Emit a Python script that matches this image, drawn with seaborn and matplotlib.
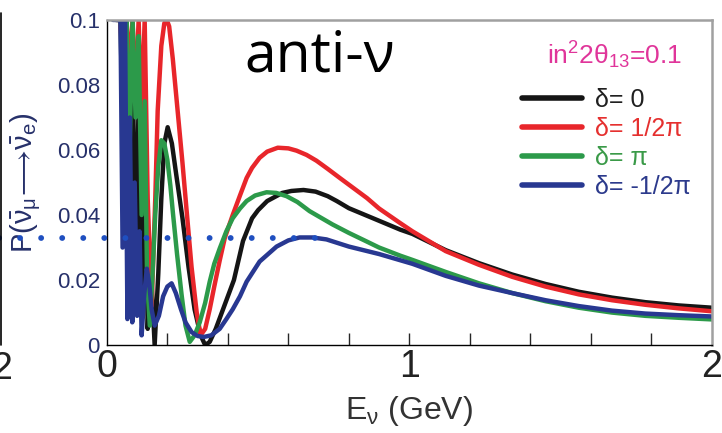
import numpy as np
import pandas as pd
import matplotlib
matplotlib.use('Agg')
import matplotlib.pyplot as plt
from matplotlib.lines import Line2D
from matplotlib.ticker import MultipleLocator, FixedLocator
import seaborn as sns

# Values: energy (GeV) and appearance probability
E_BLACK = [0.035, 0.045, 0.055, 0.065, 0.075, 0.085, 0.095, 0.105, 0.115, 0.125, 0.135, 0.145,
           0.158, 0.17, 0.18, 0.19, 0.201, 0.215, 0.23, 0.25, 0.27, 0.29, 0.31, 0.325, 0.34,
           0.36, 0.38, 0.40, 0.42, 0.45, 0.48, 0.50, 0.53, 0.58, 0.61, 0.65, 0.69, 0.73, 0.76,
           0.80, 0.88, 0.97, 1.01, 1.12, 1.23, 1.34, 1.45, 1.56, 1.67, 1.78, 1.89, 2.0]
P_BLACK = [0.1, 0.1, 0.055, 0.1, 0.04, 0.09, 0.02, 0.075, 0.01, 0.06, 0.005, 0.025,
           0.0, 0.022, 0.045, 0.062, 0.067, 0.062, 0.052, 0.039, 0.024, 0.011, 0.003, 0.0, 0.001,
           0.005, 0.010, 0.015, 0.020, 0.032, 0.039, 0.0415, 0.0443, 0.0468, 0.0474, 0.0477,
           0.0472, 0.0458, 0.0443, 0.0421, 0.039, 0.0355, 0.0342, 0.0292, 0.0252, 0.0217, 0.0188,
           0.0164, 0.0146, 0.0132, 0.0122, 0.0115]

E_RED = [0.03, 0.045, 0.055, 0.065, 0.075, 0.085, 0.095, 0.105, 0.115, 0.125, 0.135, 0.148,
         0.16, 0.168, 0.18, 0.19, 0.198, 0.206, 0.218, 0.234, 0.25, 0.264, 0.28, 0.297, 0.31,
         0.325, 0.34, 0.355, 0.373, 0.39, 0.416, 0.44, 0.462, 0.48, 0.505, 0.53, 0.565, 0.60,
         0.627, 0.66, 0.693, 0.73, 0.77, 0.86, 0.90, 0.97, 1.01, 1.12, 1.23, 1.34, 1.45, 1.56,
         1.67, 1.78, 1.89, 2.0]
P_RED = [0.1, 0.1, 0.08, 0.1, 0.085, 0.1, 0.075, 0.1, 0.07, 0.1, 0.045, 0.012,
         0.045, 0.072, 0.092, 0.099, 0.1, 0.098, 0.088, 0.072, 0.056, 0.041, 0.024, 0.010, 0.003,
         0.005, 0.011, 0.018, 0.026, 0.033, 0.040, 0.046, 0.0514, 0.0545, 0.0576, 0.0595, 0.0607,
         0.0605, 0.0598, 0.0585, 0.0567, 0.0542, 0.0514, 0.0452, 0.0420, 0.0375, 0.0350, 0.0289,
         0.0247, 0.0210, 0.0180, 0.0156, 0.0138, 0.0124, 0.0113, 0.0104]

E_GREEN = [0.03, 0.045, 0.055, 0.065, 0.075, 0.085, 0.095, 0.105, 0.115, 0.125, 0.133, 0.142,
           0.15, 0.16, 0.17, 0.18, 0.19, 0.2, 0.21, 0.218, 0.232, 0.247, 0.26, 0.274, 0.29, 0.307,
           0.325, 0.34, 0.355, 0.373, 0.395, 0.416, 0.44, 0.462, 0.49, 0.528, 0.56, 0.594, 0.63,
           0.67, 0.746, 0.80, 0.858, 0.90, 0.97, 1.01, 1.12, 1.23, 1.34, 1.45, 1.56, 1.67, 1.78,
           1.89, 2.0]
P_GREEN = [0.1, 0.1, 0.09, 0.1, 0.06, 0.1, 0.07, 0.095, 0.04, 0.075, 0.02, 0.006,
           0.02, 0.04, 0.055, 0.063, 0.062, 0.057, 0.049, 0.041, 0.028, 0.0155, 0.006, 0.001, 0.003,
           0.007, 0.013, 0.0195, 0.025, 0.0297, 0.035, 0.039, 0.042, 0.0443, 0.046, 0.047, 0.0468,
           0.0458, 0.044, 0.0412, 0.0371, 0.0345, 0.0319, 0.0300, 0.0275, 0.0262, 0.0225, 0.0190,
           0.0160, 0.0135, 0.0115, 0.0100, 0.0090, 0.0084, 0.0079]

E_BLUE = [0.02, 0.035, 0.045, 0.052, 0.06, 0.068, 0.076, 0.084, 0.092, 0.1, 0.108, 0.115,
          0.124, 0.132, 0.14, 0.148, 0.158, 0.172, 0.186, 0.2, 0.214, 0.228, 0.245, 0.26, 0.28,
          0.3, 0.32, 0.345, 0.373, 0.395, 0.416, 0.44, 0.462, 0.505, 0.561, 0.6, 0.637, 0.68,
          0.726, 0.80, 0.90, 1.01, 1.12, 1.23, 1.34, 1.45, 1.56, 1.67, 1.78, 1.89, 2.0]
P_BLUE = [0.1, 0.1, 0.1, 0.03, 0.1, 0.008, 0.07, 0.007, 0.05, 0.009, 0.035, 0.003,
          0.016, 0.0235, 0.019, 0.011, 0.006, 0.009, 0.015, 0.018, 0.019, 0.016, 0.011, 0.007,
          0.004, 0.0028, 0.0025, 0.003, 0.005, 0.008, 0.011, 0.015, 0.0195, 0.0257, 0.0303,
          0.0322, 0.0331, 0.0331, 0.0325, 0.0303, 0.0280, 0.0250, 0.0213, 0.0183, 0.0160, 0.0138,
          0.0120, 0.0106, 0.0097, 0.0092, 0.0088]

LABELS = ['δ= 0', 'δ= 1/2π', 'δ= π', 'δ= -1/2π']
LINE_COLORS = ['#151515', '#e8262b', '#2c9a4a', '#283891']
TEXT_COLORS = ['#202020', '#e5302f', '#3a9a48', '#2c3a8c']

# dotted reference level (blue dots)
DOT_LEVEL = 0.033
DOT_RANGE = [-0.36, 0.72]

X_TICKS = [0, 1, 2]
Y_TICKS = [0, 0.02, 0.04, 0.06, 0.08, 0.1]
Y_TICK_LABELS = ['0', '0.02', '0.04', '0.06', '0.08', '0.1']


def main():
    sns.set_style('white')
    plt.rcParams['font.family'] = ['Liberation Sans', 'DejaVu Sans']
    plt.rcParams['mathtext.fontset'] = 'custom'
    plt.rcParams['mathtext.rm'] = 'Liberation Sans'
    plt.rcParams['mathtext.it'] = 'Liberation Sans:italic'

    # long form table for seaborn
    curves = [(E_BLACK, P_BLACK), (E_RED, P_RED), (E_GREEN, P_GREEN), (E_BLUE, P_BLUE)]
    frames = []
    for lab, (e, p) in zip(LABELS, curves):
        frames.append(pd.DataFrame({'E': e, 'P': p, 'delta': lab}))
    df = pd.concat(frames, ignore_index=True)

    fig = plt.figure(figsize=(7.22, 4.33), dpi=100)
    ax = fig.add_axes([0.148, 0.203, 0.838, 0.751])

    sns.lineplot(data=df, x='E', y='P', hue='delta', hue_order=LABELS,
                 palette=dict(zip(LABELS, LINE_COLORS)), estimator=None, sort=False,
                 lw=3.2, legend=False, ax=ax)

    # blue dotted level, runs out past the left axis
    ax.plot(DOT_RANGE, [DOT_LEVEL, DOT_LEVEL], color='#1f4fc0', lw=4.2,
            linestyle=(0, (0.01, 3.6)), dash_capstyle='round', clip_on=False, zorder=5)

    ax.set_xlim(0, 2)
    ax.set_ylim(0, 0.1)

    # spines: black left/bottom, grey top/right
    for side in ['left', 'bottom']:
        ax.spines[side].set_color('black')
        ax.spines[side].set_linewidth(1.0)
    for side in ['top', 'right']:
        ax.spines[side].set_color('#a0a0a0')
        ax.spines[side].set_linewidth(1.8)

    ax.set_xticks(X_TICKS)
    ax.set_xticklabels([str(t) for t in X_TICKS], fontsize=27, color='#222222')
    ax.xaxis.set_minor_locator(MultipleLocator(0.05))
    ax.set_yticks(Y_TICKS)
    ax.set_yticklabels(Y_TICK_LABELS, fontsize=16, color='#26306a')
    ax.yaxis.set_minor_locator(MultipleLocator(0.005))
    ax.tick_params(axis='x', which='major', direction='in', length=15, width=1, pad=3,
                   top=False, color='black')
    ax.tick_params(axis='x', which='minor', direction='in', length=5, width=1, top=False)
    ax.tick_params(axis='y', which='both', direction='in', length=6, width=1, pad=5,
                   right=False, color='black')

    # medium ticks every 0.2
    sec = ax.secondary_xaxis('bottom')
    sec.xaxis.set_major_locator(FixedLocator(np.arange(0.2, 2.0, 0.2)))
    sec.tick_params(direction='in', length=9, width=1, labelbottom=False)
    sec.spines['bottom'].set_visible(False)

    ax.set_xlabel(r'E$_{\mathrm{\nu}}$ (GeV)', fontsize=23, color='#333333', labelpad=6)
    ax.set_ylabel(r'P($\mathrm{\bar{\nu}_{\mu}\!\longrightarrow\!\bar{\nu}_{e}}$)', fontsize=21,
                  color='#26306a', labelpad=10)

    # title inside the frame
    ax.text(0.228, 0.84, 'anti-ν', transform=ax.transAxes, fontsize=41,
            family=['Open Sans', 'DejaVu Sans'], color='black', va='baseline', ha='left')

    ax.text(0.727, 0.892, r'in$^{2}$2$\mathrm{\theta}_{13}$=0.1', transform=ax.transAxes,
            fontsize=19, color='#e0359a', va='center', ha='left')

    handles = [Line2D([], [], color=c, lw=4) for c in LINE_COLORS]
    ax.legend(handles, LABELS, loc='upper left', bbox_to_anchor=(0.665, 0.83),
              frameon=False, fontsize=18, handlelength=2.4, handletextpad=0.55,
              labelspacing=0.2, borderpad=0, labelcolor=TEXT_COLORS)

    # leftover of the neighbouring panel at the left edge
    fig.add_artist(Line2D([0.002, 0.002], [0.203, 0.97], color='black', lw=1.2,
                          transform=fig.transFigure))
    fig.text(-0.012, 0.19, '2', fontsize=27, color='#222222', va='top', ha='left')

    fig.savefig('out.png', dpi=100)


if __name__ == '__main__':
    main()
